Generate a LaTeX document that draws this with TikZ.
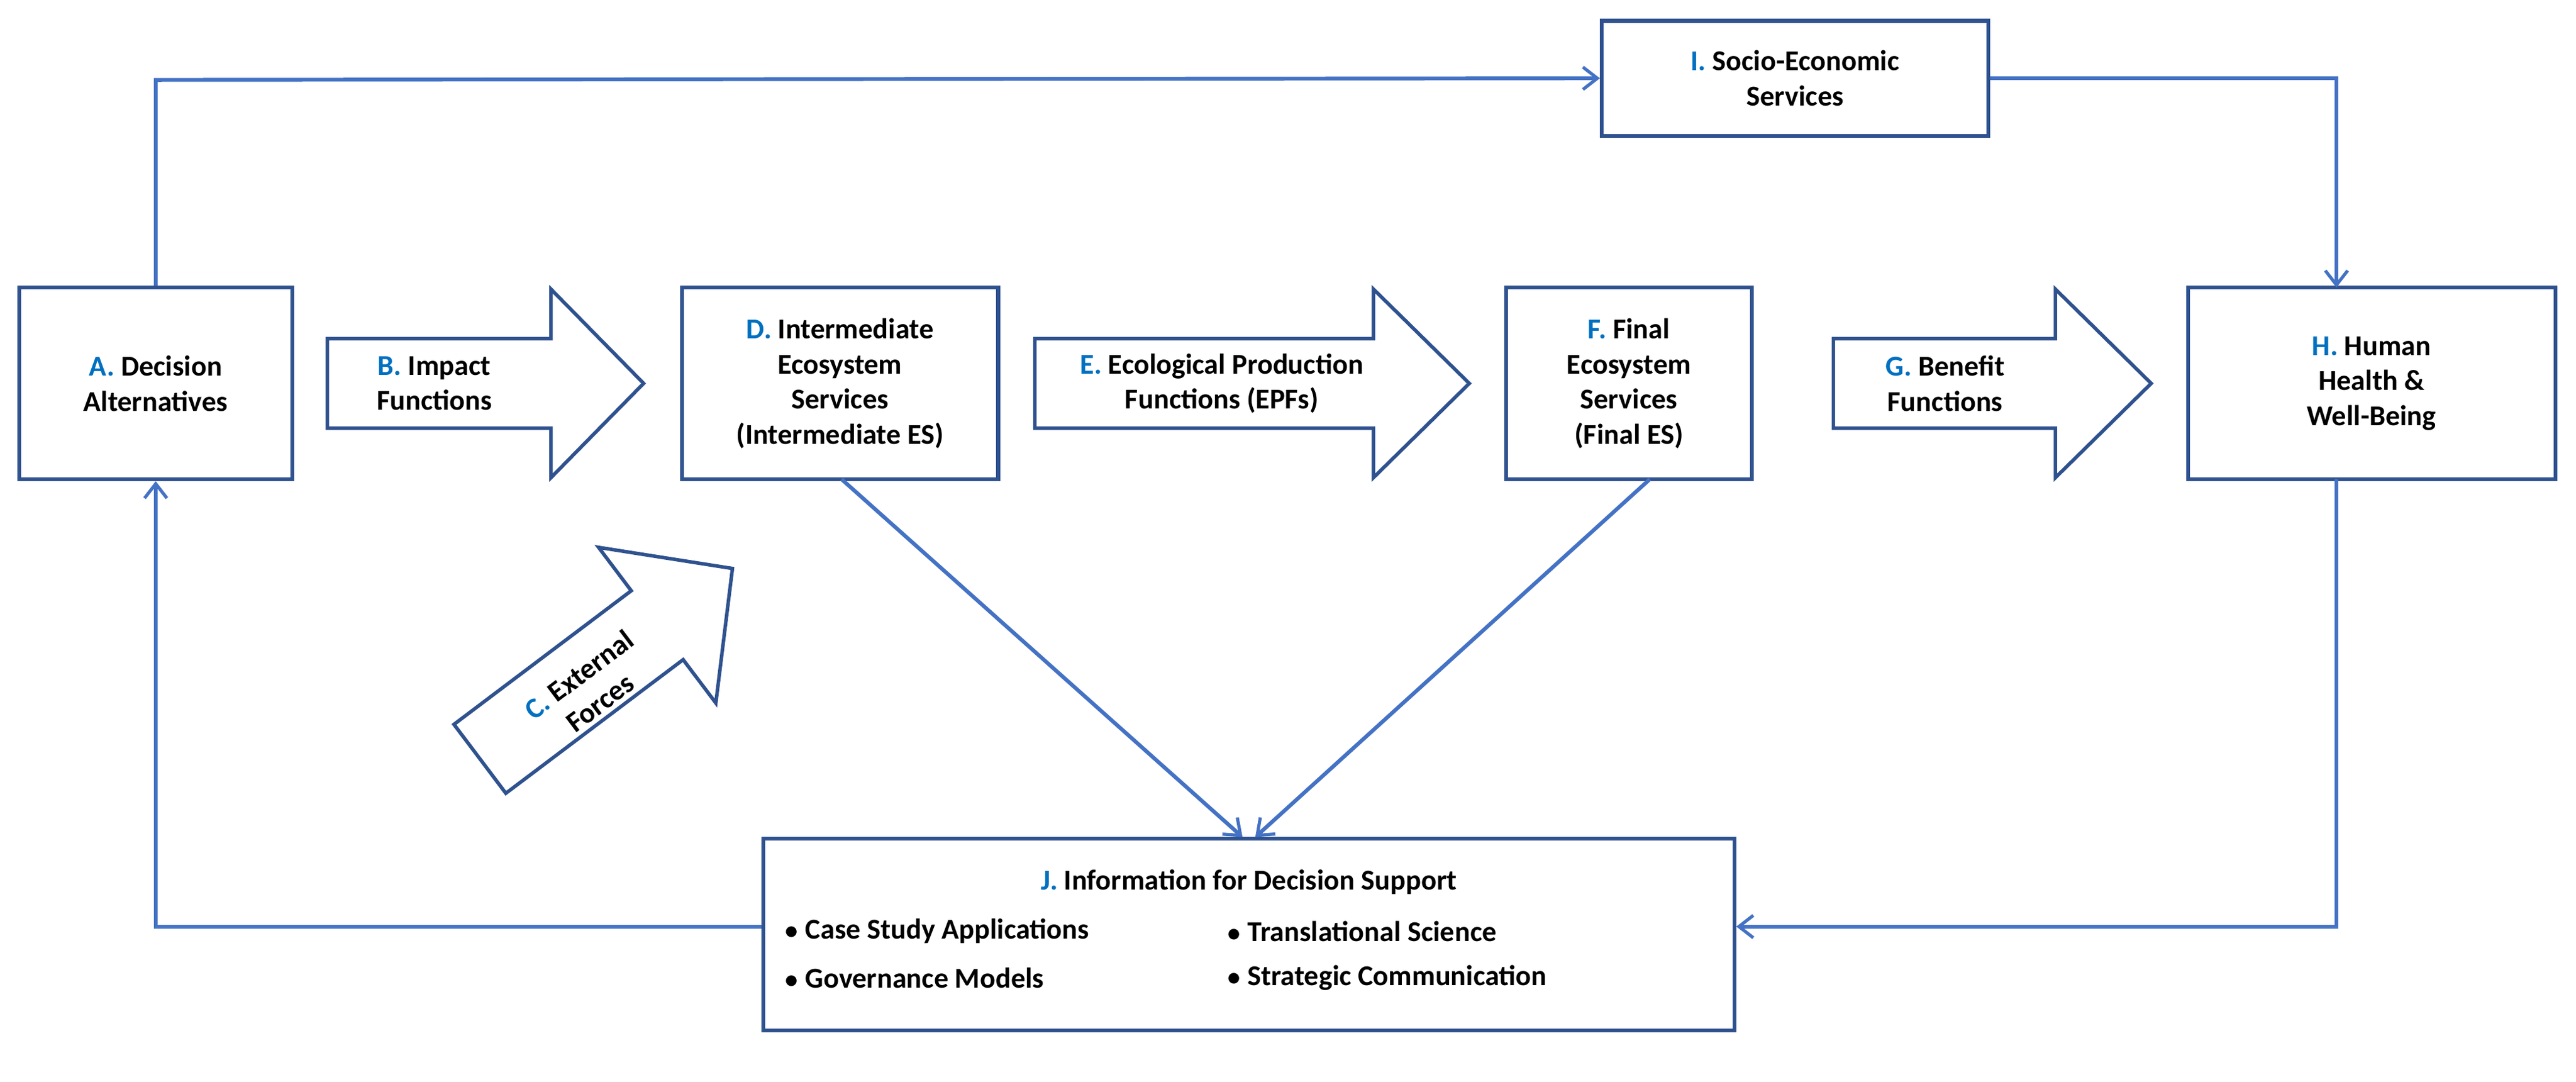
\documentclass[tikz,border=0pt]{standalone}
\usepackage{fontspec}
\setmainfont{Carlito}
\usetikzlibrary{arrows.meta}
\definecolor{bdr}{HTML}{2F528F}
\definecolor{ln}{HTML}{4472C4}
\definecolor{lt}{HTML}{0070C0}
\newcommand{\lbl}[1]{\textcolor{lt}{#1}}
\begin{document}
\begin{tikzpicture}[x=1pt,y=-1pt,
  box/.style={draw=bdr,line width=2.4pt,fill=white,align=center,font=\fontsize{18}{22}\selectfont\bfseries,inner sep=0pt},
  con/.style={draw=ln,line width=2.4pt,-{Straight Barb[length=9pt,width=14pt,line width=2pt]}},
  bigarrow/.style={draw=bdr,line width=2.2pt,fill=white,line join=miter}]
\useasboundingbox (0,0) rectangle (1613,677);
% boxes
\node[box,minimum width=171pt,minimum height=120pt] (A) at (97.5,240) {\lbl{A.} Decision\\Alternatives};
\node[box,minimum width=198pt,minimum height=120pt] (D) at (526,240) {\lbl{D.} Intermediate\\Ecosystem\\Services\\(Intermediate ES)};
\node[box,minimum width=154pt,minimum height=120pt] (F) at (1020,240) {\lbl{F.} Final\\Ecosystem\\Services\\(Final ES)};
\node[box,minimum width=230pt,minimum height=120pt] (H) at (1485,240) {\lbl{H.} Human\\Health \&\\Well-Being};
\node[box,minimum width=242pt,minimum height=72pt] (I) at (1124,49) {\lbl{I.} Socio-Economic\\Services};
\node[box,minimum width=608pt,minimum height=120pt,align=left] (J) at (782,585) {};
\node[font=\fontsize{18}{22}\selectfont\bfseries] (Jt) at (782,552) {\lbl{J.} Information for Decision Support};
\node[font=\fontsize{18}{22}\selectfont\bfseries,anchor=west] (J1) at (488,583) {$\bullet$ Case Study Applications};
\node[font=\fontsize{18}{22}\selectfont\bfseries,anchor=west] (J2) at (488,612) {$\bullet$ Governance Models};
\node[font=\fontsize{18}{22}\selectfont\bfseries,anchor=west] (J3) at (765,583) {$\bullet$ Translational Science};
\node[font=\fontsize{18}{22}\selectfont\bfseries,anchor=west] (J4) at (765,612) {$\bullet$ Strategic Communication};
% big arrows
\draw[bigarrow] (205,212)--(345,212)--(345,181)--(403,240)--(345,299)--(345,268)--(205,268)--cycle;
\node[font=\fontsize{18}{22}\selectfont\bfseries,align=center] (Bt) at (272,240) {\lbl{B.} Impact\\Functions};
\draw[bigarrow] (648,212)--(860,212)--(860,181)--(920,240)--(860,299)--(860,268)--(648,268)--cycle;
\node[font=\fontsize{18}{22}\selectfont\bfseries,align=center] (Et) at (765,240) {\lbl{E.} Ecological Production\\Functions (EPFs)};
\draw[bigarrow] (1148,212)--(1287,212)--(1287,181)--(1347,240)--(1287,299)--(1287,268)--(1148,268)--cycle;
\node[font=\fontsize{18}{22}\selectfont\bfseries,align=center] (Gt) at (1218,240) {\lbl{G.} Benefit\\Functions};
\begin{scope}[shift={(300.5,475)},rotate=37]
\draw[bigarrow] (0,-27)--(139,-27)--(139,-61)--(198,0)--(139,61)--(139,27)--(0,27)--cycle;
\end{scope}
\node[font=\fontsize{18}{22}\selectfont\bfseries,align=center,rotate=37] (Ct) at (369,431) {\lbl{C.} External\\Forces};
% connectors
\draw[con] (A.north) -- (97.5,50) -- (I.west);
\draw[con] (I.east) -- (1463,49) -- (1463,180);
\draw[con] (527,300) -- (778,524);
\draw[con] (1033,300) -- (786,524);
\draw[con] (1463,300) -- (1463,580) -- (J.east|-0,580);
\draw[con] (J.west|-0,580) -- (97.5,580) -- (A.south);
\end{tikzpicture}
\end{document}
